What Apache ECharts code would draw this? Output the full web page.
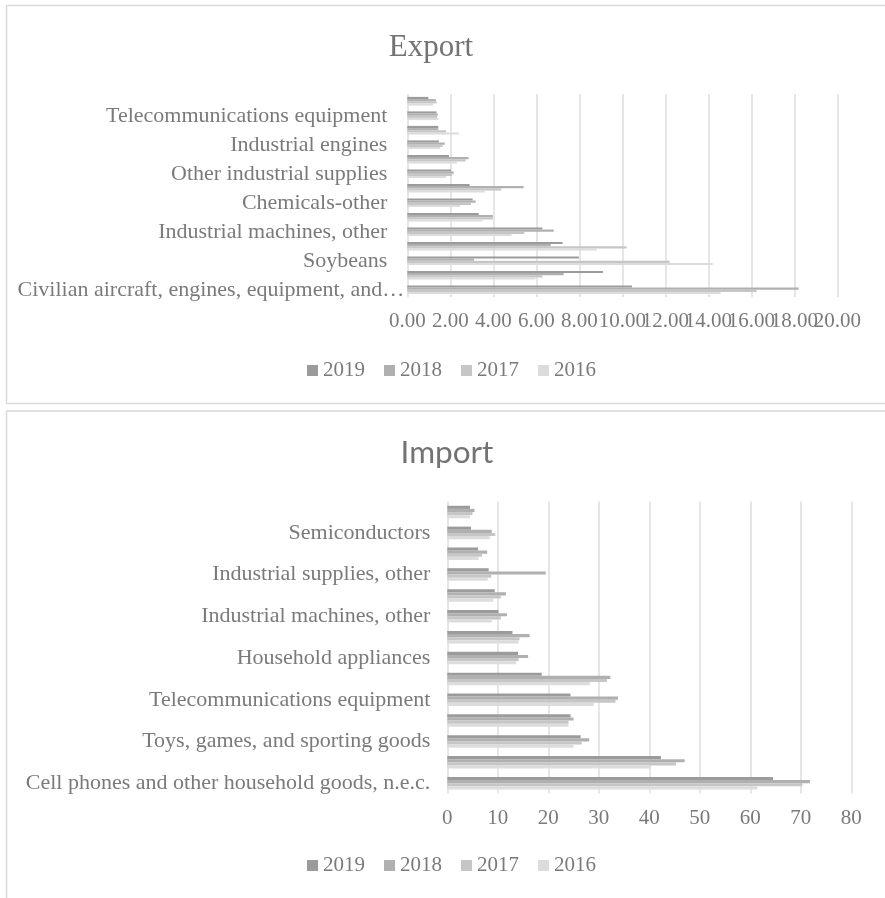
<!DOCTYPE html>
<html><head><meta charset="utf-8">
<script src="https://cdn.jsdelivr.net/npm/echarts@6/dist/echarts.min.js"></script>
<style>html,body{margin:0;padding:0;background:#fff}#c{width:885px;height:898px}</style>
</head><body><div id="c"></div>
<script>
// ---------- data (categories listed bottom -> top, as on the axis) ----------
const years = ['2019', '2018', '2017', '2016'];

const exportCategories = [
  'Civilian aircraft, engines, equipment, and\u2026', '',
  'Soybeans', '',
  'Industrial machines, other', '',
  'Chemicals-other', '',
  'Other industrial supplies', '',
  'Industrial engines', '',
  'Telecommunications equipment', ''
];
const export2019 = [10.45, 9.10, 7.98, 7.22, 6.28, 3.32, 3.04, 2.90, 2.03, 1.94, 1.47, 1.44, 1.36, 0.98];
const export2018 = [18.20, 7.27, 3.10, 6.67, 6.81, 3.98, 3.18, 5.41, 2.16, 2.85, 1.74, 1.44, 1.42, 1.33];
const export2017 = [16.25, 6.28, 12.20, 10.20, 5.44, 3.98, 2.96, 4.37, 2.09, 2.71, 1.64, 1.80, 1.38, 1.36];
const export2016 = [14.57, 5.97, 14.20, 8.82, 4.85, 3.50, 2.45, 3.60, 1.80, 2.31, 1.52, 2.40, 1.45, 1.20];
const exportAxis = { min: 0, max: 20, interval: 2, decimals: 2 };

const importCategories = [
  'Cell phones and other household goods, n.e.c.', '',
  'Toys, games, and sporting goods', '',
  'Telecommunications equipment', '',
  'Household appliances', '',
  'Industrial machines, other', '',
  'Industrial supplies, other', '',
  'Semiconductors', ''
];
const import2019 = [64.5, 42.3, 26.4, 24.4, 24.4, 18.7, 14.0, 12.9, 10.1, 9.4, 8.2, 6.1, 4.7, 4.5];
const import2018 = [71.8, 47.0, 28.1, 25.0, 33.8, 32.3, 16.0, 16.3, 11.8, 11.6, 19.5, 7.9, 8.8, 5.4];
const import2017 = [70.3, 45.3, 26.6, 24.0, 33.3, 31.6, 14.1, 14.3, 10.6, 10.6, 8.7, 6.9, 9.5, 5.0];
const import2016 = [61.4, 40.3, 25.0, 24.0, 29.0, 28.2, 13.6, 14.1, 8.8, 9.1, 8.0, 6.2, 8.4, 4.5];
const importAxis = { min: 0, max: 80, interval: 10, decimals: 0 };

// ---------- styles ----------
const colors = ['#9b9b9b', '#b0b0b0', '#c6c6c6', '#dcdcdc'];
const serif = 'Liberation Serif';
const textGray = '#7a7a7a';
const gridGray = '#dedede';

const exportData = [export2019, export2018, export2017, export2016];
const importData = [import2019, import2018, import2017, import2016];

function valueAxis(gridIndex, ax, opts) {
  opts = opts || {};
  return {
    type: 'value', gridIndex: gridIndex, position: 'bottom',
    min: ax.min, max: ax.max, interval: ax.interval,
    axisLine: { show: false }, axisTick: { show: false },
    splitLine: { show: opts.split !== false, lineStyle: { color: gridGray, width: 1.5 } },
    axisLabel: {
      margin: 14, color: textGray, fontFamily: serif, fontSize: 21,
      showMinLabel: opts.minLabel !== undefined ? opts.minLabel : true,
      showMaxLabel: opts.maxLabel !== undefined ? opts.maxLabel : true,
      hideOverlap: false,
      formatter: v => (opts.onlyMax && v !== ax.max) ? '' : v.toFixed(ax.decimals)
    }
  };
}
function catAxis(gridIndex, cats, margin, firstShift) {
  const data = cats.map((c, i) => (i === 0 && firstShift)
    ? { value: c, textStyle: { padding: [0, -firstShift, 0, 0] } }
    : c);
  return {
    type: 'category', gridIndex: gridIndex, data: data,
    axisLine: { show: false }, axisTick: { show: false },
    axisLabel: { interval: 0, margin: margin, color: textGray, fontFamily: serif, fontSize: 22 }
  };
}

const series = [];
years.forEach((y, i) => {
  series.push({
    name: y, type: 'bar', xAxisIndex: 0, yAxisIndex: 0, data: exportData[i],
    itemStyle: { color: colors[i] }, barGap: '0%', barCategoryGap: '40%', silent: true
  });
});
years.forEach((y, i) => {
  series.push({
    name: y, type: 'bar', xAxisIndex: 1, yAxisIndex: 1, data: importData[i],
    itemStyle: { color: colors[i] }, barGap: '0%', barCategoryGap: '40%', silent: true
  });
});

const legendBase = {
  data: years, orient: 'horizontal', itemWidth: 11, itemHeight: 11, itemGap: 19,
  icon: 'rect', selectedMode: false, padding: 0,
  textStyle: { color: textGray, fontFamily: serif, fontSize: 21 }
};

const chart = echarts.init(document.getElementById('c'), null, { renderer: 'canvas' });
chart.setOption({
  animation: false,
  backgroundColor: '#ffffff',
  graphic: [
    { type: 'rect', shape: { x: 6.5, y: 5.5, width: 900, height: 398 },
      style: { fill: 'none', stroke: '#d9d9d9', lineWidth: 1.5 }, silent: true },
    { type: 'rect', shape: { x: 6.5, y: 411, width: 900, height: 500 },
      style: { fill: 'none', stroke: '#d9d9d9', lineWidth: 1.5 }, silent: true }
  ],
  title: [
    { text: 'Export', left: 431, top: 32, textAlign: 'center', padding: 0,
      textStyle: { fontFamily: serif, fontSize: 31, fontWeight: 'normal', color: '#737373' } },
    { text: 'Import', left: 447, top: 437, textAlign: 'center', padding: 0,
      textStyle: { fontFamily: 'Lato', fontSize: 31.5, fontWeight: 'normal', color: '#737373' } }
  ],
  legend: [
    Object.assign({}, legendBase, { left: 307, top: 360 }),
    Object.assign({}, legendBase, { left: 307, top: 855 })
  ],
  grid: [
    { left: 407.3, top: 94, width: 430, height: 203, containLabel: false },
    { left: 447.3, top: 501.6, width: 404, height: 292, containLabel: false }
  ],
  xAxis: [
    valueAxis(0, exportAxis, { maxLabel: false }),
    valueAxis(1, importAxis),
    valueAxis(0, exportAxis, { split: false, onlyMax: true, minLabel: false })
  ],
  yAxis: [catAxis(0, exportCategories, 20, 17), catAxis(1, importCategories, 17, 0)],
  series: series
});
</script>
</body></html>
